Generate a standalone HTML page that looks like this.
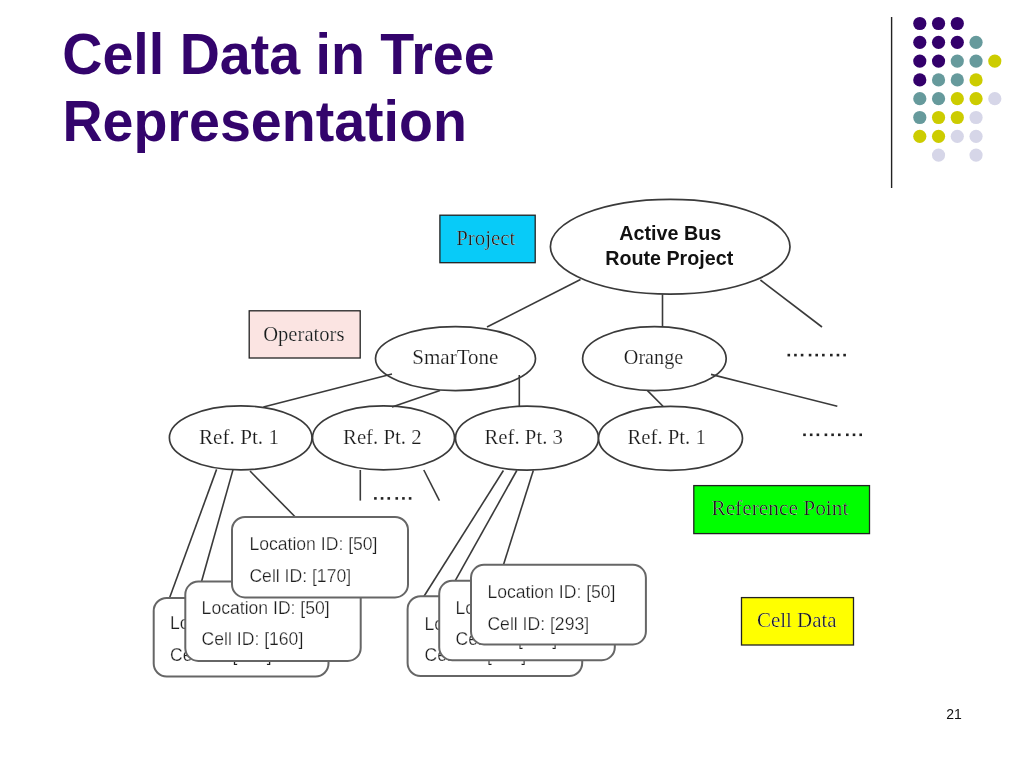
<!DOCTYPE html>
<html>
<head>
<meta charset="utf-8">
<style>
html,body{margin:0;padding:0;background:#fff;}
body{width:1024px;height:768px;overflow:hidden;position:relative;}
svg{position:absolute;left:0;top:0;will-change:transform;}
.ttl{font-family:"Liberation Sans",sans-serif;font-weight:bold;font-size:57px;fill:#33046c;}
.ser{font-family:"Liberation Serif",serif;fill:#1a1a1a;stroke:#fff;stroke-width:0.2px;}
.sans{font-family:"Liberation Sans",sans-serif;fill:#1e1e1e;stroke:#fff;stroke-width:0.25px;}
.bold{font-family:"Liberation Sans",sans-serif;font-weight:bold;fill:#111;}
.ln{stroke:#3a3a3a;stroke-width:1.6;fill:none;}
.el{stroke:#3a3a3a;stroke-width:1.7;fill:#fff;}
.bx{stroke:#666;stroke-width:2;fill:#fff;}
.rc{stroke:#222;stroke-width:1.3;}
</style>
</head>
<body>
<svg width="1024" height="768" viewBox="0 0 1024 768">
<text class="ttl" transform="translate(62.3,74.3) scale(0.975,1)">Cell Data in Tree</text>
<text class="ttl" transform="translate(62.4,140.9) scale(0.975,1)">Representation</text>
<line x1="891.6" y1="17" x2="891.6" y2="188" stroke="#222" stroke-width="1.4"/>
<circle cx="919.80" cy="23.50" r="6.6" fill="#33006b"/>
<circle cx="938.55" cy="23.50" r="6.6" fill="#33006b"/>
<circle cx="957.30" cy="23.50" r="6.6" fill="#33006b"/>
<circle cx="919.80" cy="42.30" r="6.6" fill="#33006b"/>
<circle cx="938.55" cy="42.30" r="6.6" fill="#33006b"/>
<circle cx="957.30" cy="42.30" r="6.6" fill="#33006b"/>
<circle cx="976.05" cy="42.30" r="6.6" fill="#669a9c"/>
<circle cx="919.80" cy="61.10" r="6.6" fill="#33006b"/>
<circle cx="938.55" cy="61.10" r="6.6" fill="#33006b"/>
<circle cx="957.30" cy="61.10" r="6.6" fill="#669a9c"/>
<circle cx="976.05" cy="61.10" r="6.6" fill="#669a9c"/>
<circle cx="994.80" cy="61.10" r="6.6" fill="#cccc00"/>
<circle cx="919.80" cy="79.90" r="6.6" fill="#33006b"/>
<circle cx="938.55" cy="79.90" r="6.6" fill="#669a9c"/>
<circle cx="957.30" cy="79.90" r="6.6" fill="#669a9c"/>
<circle cx="976.05" cy="79.90" r="6.6" fill="#cccc00"/>
<circle cx="919.80" cy="98.70" r="6.6" fill="#669a9c"/>
<circle cx="938.55" cy="98.70" r="6.6" fill="#669a9c"/>
<circle cx="957.30" cy="98.70" r="6.6" fill="#cccc00"/>
<circle cx="976.05" cy="98.70" r="6.6" fill="#cccc00"/>
<circle cx="994.80" cy="98.70" r="6.6" fill="#d6d6e8"/>
<circle cx="919.80" cy="117.50" r="6.6" fill="#669a9c"/>
<circle cx="938.55" cy="117.50" r="6.6" fill="#cccc00"/>
<circle cx="957.30" cy="117.50" r="6.6" fill="#cccc00"/>
<circle cx="976.05" cy="117.50" r="6.6" fill="#d6d6e8"/>
<circle cx="919.80" cy="136.30" r="6.6" fill="#cccc00"/>
<circle cx="938.55" cy="136.30" r="6.6" fill="#cccc00"/>
<circle cx="957.30" cy="136.30" r="6.6" fill="#d6d6e8"/>
<circle cx="976.05" cy="136.30" r="6.6" fill="#d6d6e8"/>
<circle cx="938.55" cy="155.10" r="6.6" fill="#d6d6e8"/>
<circle cx="976.05" cy="155.10" r="6.6" fill="#d6d6e8"/>
<rect class="rc" x="439.9" y="215.2" width="95.3" height="47.5" fill="#08cbf8"/>
<rect class="rc" x="249.2" y="310.8" width="111" height="47.2" fill="#fbe4e2"/>
<rect class="rc" x="693.8" y="485.6" width="175.7" height="48" fill="#00ff00"/>
<rect class="rc" x="741.5" y="597.6" width="112" height="47.4" fill="#ffff00"/>
<ellipse class="el" cx="670.2" cy="246.7" rx="119.8" ry="47.4"/>
<ellipse class="el" cx="455.5" cy="358.6" rx="80" ry="32"/>
<ellipse class="el" cx="654.4" cy="358.6" rx="71.8" ry="32"/>
<ellipse class="el" cx="240.7" cy="437.8" rx="71.3" ry="32"/>
<ellipse class="el" cx="383.5" cy="437.8" rx="71" ry="32"/>
<ellipse class="el" cx="527" cy="438.2" rx="71.5" ry="32"/>
<ellipse class="el" cx="670.5" cy="438.3" rx="72" ry="32"/>
<g class="ln">
<line x1="580.5" y1="279.5" x2="487" y2="327"/>
<line x1="662.5" y1="294.3" x2="662.5" y2="326.9"/>
<line x1="760.4" y1="280" x2="822" y2="327"/>
<line x1="392" y1="374" x2="263.4" y2="407"/>
<line x1="440" y1="390.6" x2="392" y2="407"/>
<line x1="519.3" y1="375" x2="519.3" y2="406.2"/>
<line x1="647.5" y1="390.6" x2="663" y2="406.3"/>
<line x1="711" y1="374.4" x2="837.3" y2="406.3"/>
<line x1="216.6" y1="469.4" x2="169.7" y2="597.5"/>
<line x1="233.1" y1="469.4" x2="201.6" y2="581.3"/>
<line x1="250" y1="471" x2="295.3" y2="517"/>
<line x1="360.3" y1="470" x2="360.3" y2="500.6"/>
<line x1="423.8" y1="470" x2="439.4" y2="500.6"/>
<line x1="503.4" y1="470.5" x2="424" y2="596.3"/>
<line x1="516.8" y1="470.5" x2="455.4" y2="580.4"/>
<line x1="533.3" y1="470.5" x2="503.4" y2="565"/>
</g>
<text class="ser" x="456.2" y="244.7" font-size="21.5" textLength="59.23" lengthAdjust="spacingAndGlyphs" stroke="none">Project</text>
<text class="ser" x="263.2" y="340.5" font-size="21.5" textLength="81.25" lengthAdjust="spacingAndGlyphs" stroke="none">Operators</text>
<text class="ser" x="412.2" y="364.3" font-size="21.5" textLength="86.26" lengthAdjust="spacingAndGlyphs">SmarTone</text>
<text class="ser" x="623.8" y="364.3" font-size="21.5" textLength="59.42" lengthAdjust="spacingAndGlyphs">Orange</text>
<text class="ser" x="199.0" y="443.9" font-size="21.5" textLength="79.97" lengthAdjust="spacingAndGlyphs">Ref. Pt. 1</text>
<text class="ser" x="343.0" y="443.9" font-size="21.5" textLength="78.65" lengthAdjust="spacingAndGlyphs">Ref. Pt. 2</text>
<text class="ser" x="484.4" y="443.9" font-size="21.5" textLength="78.65" lengthAdjust="spacingAndGlyphs">Ref. Pt. 3</text>
<text class="ser" x="627.4" y="443.9" font-size="21.5" textLength="78.5" lengthAdjust="spacingAndGlyphs">Ref. Pt. 1</text>
<text class="ser" x="711.4" y="515.4" font-size="21.5" textLength="137.03" lengthAdjust="spacingAndGlyphs" stroke="none">Reference Point</text>
<text class="ser" x="757.0" y="626.7" font-size="21.5" textLength="79.63" lengthAdjust="spacingAndGlyphs" stroke="none">Cell Data</text>
<text class="bold" x="619.2" y="239.6" font-size="19.5" textLength="102.01" lengthAdjust="spacingAndGlyphs">Active Bus</text>
<text class="bold" x="605.2" y="264.5" font-size="19.5" textLength="128.02" lengthAdjust="spacingAndGlyphs">Route Project</text>
<rect x="787.50" y="353.80" width="2.6" height="2.6" fill="#222"/>
<rect x="794.14" y="353.80" width="2.6" height="2.6" fill="#222"/>
<rect x="800.79" y="353.80" width="2.6" height="2.6" fill="#222"/>
<rect x="808.76" y="353.80" width="2.6" height="2.6" fill="#222"/>
<rect x="815.40" y="353.80" width="2.6" height="2.6" fill="#222"/>
<rect x="822.04" y="353.80" width="2.6" height="2.6" fill="#222"/>
<rect x="830.01" y="353.80" width="2.6" height="2.6" fill="#222"/>
<rect x="836.66" y="353.80" width="2.6" height="2.6" fill="#222"/>
<rect x="843.30" y="353.80" width="2.6" height="2.6" fill="#222"/>
<rect x="803.20" y="433.50" width="2.6" height="2.6" fill="#222"/>
<rect x="809.89" y="433.50" width="2.6" height="2.6" fill="#222"/>
<rect x="816.58" y="433.50" width="2.6" height="2.6" fill="#222"/>
<rect x="824.61" y="433.50" width="2.6" height="2.6" fill="#222"/>
<rect x="831.30" y="433.50" width="2.6" height="2.6" fill="#222"/>
<rect x="837.99" y="433.50" width="2.6" height="2.6" fill="#222"/>
<rect x="846.02" y="433.50" width="2.6" height="2.6" fill="#222"/>
<rect x="852.71" y="433.50" width="2.6" height="2.6" fill="#222"/>
<rect x="859.40" y="433.50" width="2.6" height="2.6" fill="#222"/>
<rect x="374.10" y="497.10" width="2.6" height="2.6" fill="#222"/>
<rect x="380.77" y="497.10" width="2.6" height="2.6" fill="#222"/>
<rect x="387.45" y="497.10" width="2.6" height="2.6" fill="#222"/>
<rect x="395.45" y="497.10" width="2.6" height="2.6" fill="#222"/>
<rect x="402.13" y="497.10" width="2.6" height="2.6" fill="#222"/>
<rect x="408.80" y="497.10" width="2.6" height="2.6" fill="#222"/>
<rect class="bx" x="153.7" y="598.0" width="174.8" height="78.6" rx="13" ry="13"/>
<text class="sans" x="170.0" y="629.3" font-size="17.6">Location ID: [50]</text>
<text class="sans" x="170.0" y="661.4" font-size="17.6">Cell ID: [150]</text>
<rect class="bx" x="185.3" y="581.6" width="175.4" height="79.3" rx="13" ry="13"/>
<text class="sans" x="201.6" y="613.5" font-size="17.6">Location ID: [50]</text>
<text class="sans" x="201.6" y="644.9" font-size="17.6">Cell ID: [160]</text>
<rect class="bx" x="232.0" y="517.0" width="176.0" height="80.4" rx="13" ry="13"/>
<text class="sans" x="249.4" y="550.2" font-size="17.6">Location ID: [50]</text>
<text class="sans" x="249.4" y="581.8" font-size="17.6">Cell ID: [170]</text>
<rect class="bx" x="407.6" y="596.2" width="174.6" height="79.8" rx="13" ry="13"/>
<text class="sans" x="424.5" y="629.6" font-size="17.6">Location ID: [50]</text>
<text class="sans" x="424.5" y="660.6" font-size="17.6">Cell ID: [103]</text>
<rect class="bx" x="439.2" y="580.8" width="175.6" height="79.4" rx="13" ry="13"/>
<text class="sans" x="455.5" y="614.2" font-size="17.6">Location ID: [50]</text>
<text class="sans" x="455.5" y="645.4" font-size="17.6">Cell ID: [198]</text>
<rect class="bx" x="471.0" y="564.8" width="174.9" height="79.6" rx="13" ry="13"/>
<text class="sans" x="487.4" y="597.8" font-size="17.6">Location ID: [50]</text>
<text class="sans" x="487.4" y="629.6" font-size="17.6">Cell ID: [293]</text>
<text x="946.3" y="718.7" font-family="Liberation Sans, sans-serif" font-size="14" fill="#111">21</text>
</svg>
</body>
</html>
